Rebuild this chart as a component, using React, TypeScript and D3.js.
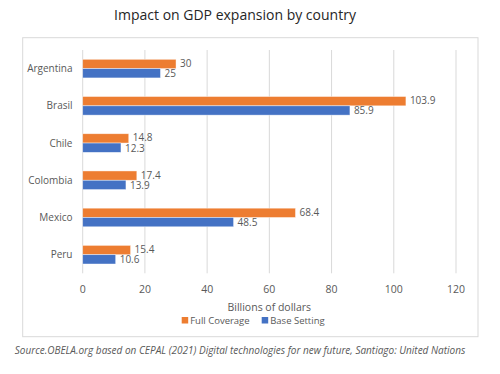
import React from "react";
import * as d3 from "d3";

const categories = ["Argentina", "Brasil", "Chile", "Colombia", "Mexico", "Peru"];
const fullCoverage = [30, 103.9, 14.8, 17.4, 68.4, 15.4];
const baseSetting = [25, 85.9, 12.3, 13.9, 48.5, 10.6];
const xTicks = [0, 20, 40, 60, 80, 100, 120];
const seriesNames = ["Full Coverage", "Base Setting"];
const seriesColors = ["#ED7D31", "#4472C4"];

const W = 500;
const H = 374;
const FONT = "'Open Sans', 'Noto Sans', sans-serif";

export default function App() {
  const x = d3.scaleLinear().domain([0, 120]).range([82.7, 456]);
  const y = d3.scaleBand<string>().domain(categories).range([50, 273.3]).paddingInner(0.5).paddingOuter(0.25);
  const barH = y.bandwidth() / 2;
  const series = [fullCoverage, baseSetting];

  return (
    <svg width={W} height={H} style={{ position: "absolute", left: 0, top: 0, background: "#fff" }} fontFamily={FONT}>
      <rect x={0} y={0} width={W} height={H} fill="#fff" />
      <text x={235} y={19.5} textAnchor="middle" fontSize={14} fill="#262626">
        Impact on GDP expansion by country
      </text>
      <rect x={22.7} y={37.7} width={455.3} height={299} fill="none" stroke="#d9d9d9" strokeWidth={1} />
      {xTicks.map((t) => (
        <line key={t} x1={x(t)} x2={x(t)} y1={50} y2={273.3} stroke="#d9d9d9" strokeWidth={1} />
      ))}
      {xTicks.map((t) => (
        <text key={"l" + t} x={x(t)} y={293} textAnchor="middle" fontSize={10.5} fill="#595959">
          {t}
        </text>
      ))}
      {categories.map((c) => (
        <text key={c} x={72.5} y={(y(c) as number) + barH + 3.5} textAnchor="end" fontSize={10} fill="#595959">
          {c}
        </text>
      ))}
      {series.map((vals, si) =>
        vals.map((v, i) => {
          const c = categories[i];
          const yy = (y(c) as number) + si * barH;
          return (
            <g key={si + "-" + i}>
              <rect
                x={x(0)}
                y={yy}
                width={x(v) - x(0)}
                height={barH}
                fill={seriesColors[si]}
                stroke="#fff"
                strokeOpacity={0.6}
                strokeWidth={0.7}
              />
              <text x={x(v) + 4} y={yy + barH / 2 + (si === 0 ? 3 : 4)} fontSize={10} fill="#595959">
                {v}
              </text>
            </g>
          );
        })
      )}
      <text x={269.3} y={310.5} textAnchor="middle" fontSize={10.5} fill="#595959">
        Billions of dollars
      </text>
      {seriesNames.map((n, i) => {
        const lx = i === 0 ? 181.7 : 261.7;
        return (
          <g key={n}>
            <rect x={lx} y={317} width={6.5} height={6.5} fill={seriesColors[i]} />
            <text x={lx + 8.5} y={324} fontSize={9.5} fill="#595959">
              {n}
            </text>
          </g>
        );
      })}
      <text x={240} y={354} textAnchor="middle" fontSize={10} fontStyle="italic" fill="#595959">
        Source.OBELA.org based on CEPAL (2021) Digital technologies for new future, Santiago: United Nations
      </text>
    </svg>
  );
}
